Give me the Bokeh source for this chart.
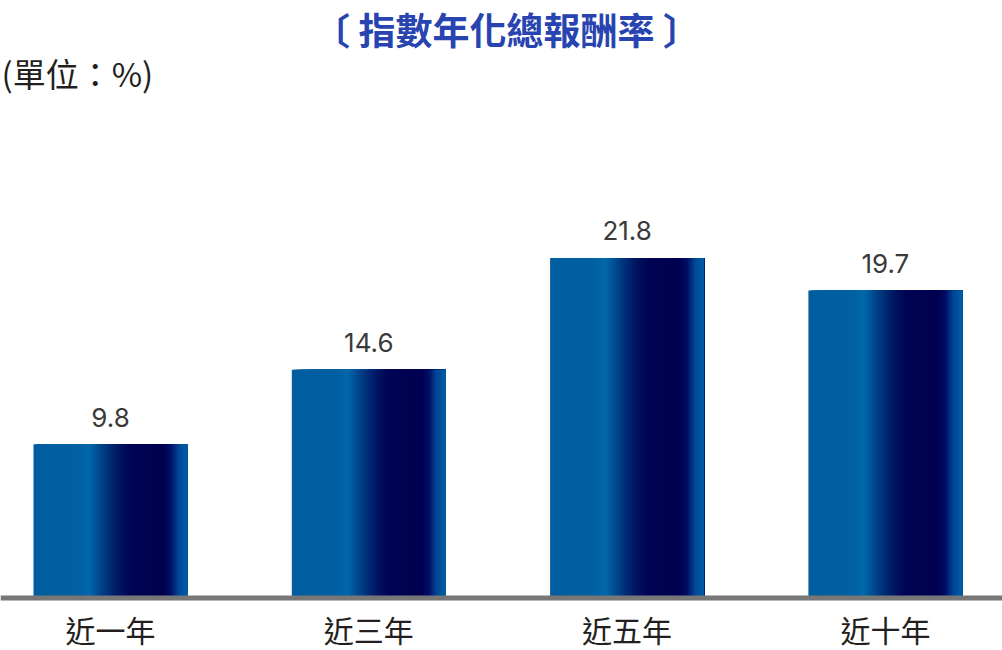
import numpy as np
from bokeh.plotting import figure
from bokeh.models import ColumnDataSource, Range1d, Span
from bokeh.embed import file_html
from bokeh.resources import INLINE
from bokeh.core.properties import value

# ---- data ----
categories = ["近一年", "近三年", "近五年", "近十年"]
returns = [9.8, 14.6, 21.8, 19.7]
value_labels = ["9.8", "14.6", "21.8", "19.7"]
title_text = "〔 指數年化總報酬率 〕"
unit_text = "(單位：%)"

# ---- layout ----
W, H = 1002, 650
PX_X = 258.3   # pixels per category
PX_Y = 15.53   # pixels per percent
BASE = 596     # pixel row of value 0
x_start = -110 / PX_X
x_end = x_start + W / PX_X
y_start = -(H - BASE) / PX_Y
y_end = y_start + H / PX_Y

p = figure(width=W, height=H, x_range=Range1d(x_start, x_end),
           y_range=Range1d(y_start, y_end), output_backend="svg",
           toolbar_location=None, min_border=0,
           x_axis_location=None, y_axis_location=None)
p.grid.visible = False
p.outline_line_color = None
p.background_fill_color = "white"
p.border_fill_color = "white"

# ---- gradient bars (drawn as layered vertical slices) ----
stops = [(0.0, (0, 94, 160)), (0.30, (0, 96, 162)), (0.36, (2, 104, 170)),
         (0.45, (0, 62, 134)), (0.55, (0, 22, 98)), (0.63, (0, 4, 84)),
         (0.84, (0, 0, 80)), (0.89, (0, 14, 100)), (0.94, (0, 70, 150)),
         (1.0, (0, 94, 166))]
sp = np.array([s[0] for s in stops])
sc = np.array([s[1] for s in stops], dtype=float)

def grad(t):
    r = np.interp(t, sp, sc[:, 0]); g = np.interp(t, sp, sc[:, 1]); b = np.interp(t, sp, sc[:, 2])
    return "#%02x%02x%02x" % (int(round(r)), int(round(g)), int(round(b)))

n = 77
bar_w = 154 / PX_X
L, R, T, B, C = [], [], [], [], []
for i, v in enumerate(returns):
    x0 = i - bar_w / 2
    for k in range(n):
        l = x0 + k * bar_w / n
        L.append(l); R.append(x0 + bar_w); T.append(v); B.append(0); C.append(grad((k + 0.5) / n))
src = ColumnDataSource(dict(left=L, right=R, top=T, bottom=B, color=C))
p.quad(left="left", right="right", top="top", bottom="bottom", fill_color="color",
       line_color=None, source=src)

# baseline axis
p.add_layout(Span(location=-1.5 / PX_Y, dimension="width", line_color="#777777", line_width=5))

idx = list(range(len(categories)))
# value labels
p.text(x=idx, y=returns, text=value_labels, text_align="center", text_baseline="alphabetic",
       y_offset=-27, text_font=value("Inter"), text_font_size="26px",
       text_color="#3a3a3a")
# category labels
p.text(x=idx, y=[0] * len(idx), text=categories, text_align="center", text_baseline="middle",
       y_offset=32, text_font=value("Noto Sans CJK TC"), text_font_size="30px",
       text_color="#231f20")

# title
p.text(x=[(506 - 110) / PX_X], y=[(BASE - 1) / PX_Y], text=[title_text], text_align="center",
       text_baseline="top", text_font=value("Noto Sans CJK TC"), text_font_size="37px",
       text_font_style="bold", text_color="#2744b1")
# unit
p.text(x=[x_start + 1 / PX_X], y=[(BASE - 72) / PX_Y], text=[unit_text], text_align="left",
       text_baseline="middle", text_font=value("Noto Sans CJK TC"), text_font_size="33px",
       text_color="#231f20")

open("out.html", "w").write(file_html(p, INLINE))
